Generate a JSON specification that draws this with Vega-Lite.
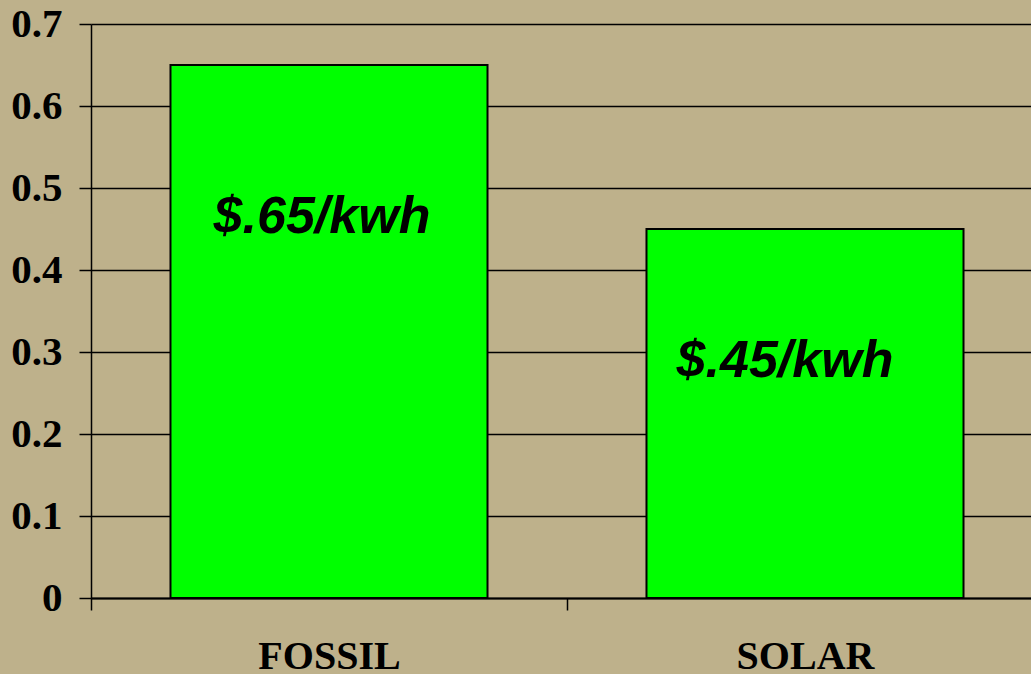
{
  "$schema": "https://vega.github.io/schema/vega-lite/v6.json",
  "width": 952,
  "height": 574,
  "autosize": "none",
  "padding": {"top": 24, "left": 91, "right": 0, "bottom": 76},
  "background": "#BEB18B",
  "config": {"view": {"stroke": null}},
  "data": {"values": [
    {"source": "FOSSIL", "cost": 0.65, "label": "$.65/kwh"},
    {"source": "SOLAR", "cost": 0.45, "label": "$.45/kwh"}
  ]},
  "encoding": {
    "x": {
      "field": "source", "type": "nominal", "sort": null,
      "scale": {"paddingInner": 0.334, "paddingOuter": 0.167},
      "axis": {
        "title": null, "labelAngle": 0, "grid": false,
        "domainColor": "#000000", "domainWidth": 2,
        "tickColor": "#000000", "tickWidth": 1.5, "tickSize": 12, "tickOffset": -238,
        "labelOffset": 238,
        "labelFont": "Liberation Serif", "labelFontWeight": "bold", "labelFontSize": 40,
        "labelColor": "#000000", "labelPadding": 26, "labelBaseline": "top"
      }
    },
    "y": {
      "field": "cost", "type": "quantitative",
      "scale": {"domain": [0, 0.7], "nice": false},
      "axis": {
        "title": null, "values": [0, 0.1, 0.2, 0.3, 0.4, 0.5, 0.6, 0.7],
        "labelExpr": "datum.value == 0 ? '0' : format(datum.value, '.1f')",
        "grid": true, "gridColor": "#000000", "gridWidth": 1.5, "gridOpacity": 1,
        "domainColor": "#000000", "domainWidth": 1.5,
        "tickColor": "#000000", "tickWidth": 1.5, "tickSize": 12,
        "labelFont": "Liberation Serif", "labelFontWeight": "bold", "labelFontSize": 41,
        "labelColor": "#000000", "labelPadding": 17
      }
    }
  },
  "layer": [
    {"mark": {"type": "bar", "color": "#00FF00", "stroke": "#000000", "strokeWidth": 2}},
    {
      "transform": [{"filter": "datum.source == 'FOSSIL'"}],
      "mark": {"type": "text", "font": "Liberation Sans", "fontWeight": "bold", "fontStyle": "italic", "fontSize": 52, "color": "#000000", "baseline": "alphabetic", "align": "center", "dx": -7, "dy": 168},
      "encoding": {"text": {"field": "label"}}
    },
    {
      "transform": [{"filter": "datum.source == 'SOLAR'"}],
      "mark": {"type": "text", "font": "Liberation Sans", "fontWeight": "bold", "fontStyle": "italic", "fontSize": 52, "color": "#000000", "baseline": "alphabetic", "align": "center", "dx": -20, "dy": 148},
      "encoding": {"text": {"field": "label"}}
    }
  ]
}
